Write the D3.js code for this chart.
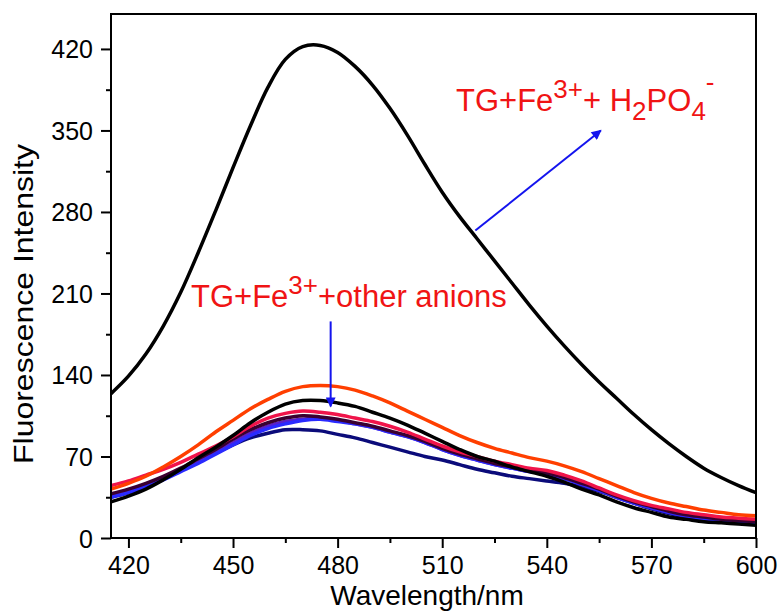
<!DOCTYPE html>
<html>
<head>
<meta charset="utf-8">
<script src="https://cdn.jsdelivr.net/npm/d3@7"></script>
<style>
  body { margin: 0; background: #fff; }
  text { font-family: "Liberation Sans", Arial, sans-serif; }
</style>
</head>
<body>
<div class="spectra"></div>
<script>
// wavelengths every 5 nm, 415..600
const wavelengths = d3.range(415, 601, 5);

// TG+Fe3+ + H2PO4-
const h2po4 = [124,139,158,182,211,245,281,318,354,387,411,422,423,417,405,389,369,346,321,297,276,257,238,219,200,182,165,149,134,120,106,93,81,70,60,52,45,39];

// TG+Fe3+ + other anions
const orange = [42,47,53,61,70,80,91,101,111,119,126,130,131,130,127,122,116,109,102,95,88,82,77,73,69,66,62,57,51,45,39,34,30,27,24,22,20,19];
const black2 = [31,36,42,50,59,69,78,88,99,108,115,118,118,116,113,108,103,97,90,83,76,70,66,61,57,53,48,42,37,31,26,22,18,16,14,13,12,11];
const crimson = [45,49,54,59,65,72,79,87,96,103,107,109,108,106,103,100,96,91,85,79,74,70,66,63,60,58,54,49,43,37,32,28,25,22,20,18,17,16];
const maroon = [38,42,47,53,60,68,76,85,93,99,103,105,104,102,99,96,92,88,83,77,72,68,64,61,58,56,52,47,42,36,31,27,23,20,18,16,15,14];
const purple = [36,40,45,51,58,66,74,82,90,96,100,102,103,101,98,95,91,87,82,76,71,67,63,60,57,55,51,46,41,35,30,26,22,19,17,15,14,13];
const blue = [35,39,44,50,57,64,72,80,88,94,98,101,102,100,98,95,91,87,82,76,71,67,63,60,57,55,51,46,41,35,30,26,22,19,17,15,14,13];
const navy = [35,39,45,52,59,66,73,80,86,90,93,93,92,89,86,82,78,74,70,67,63,59,56,53,51,49,47,44,40,35,30,25,21,18,16,14,13,12];

const series = [
    {name: 'navy', values: navy, color: '#0b0b7a'},
    {name: 'purple', values: purple, color: '#5a1fc8'},
    {name: 'blue', values: blue, color: '#2a2aff'},
    {name: 'maroon', values: maroon, color: '#3a0030'},
    {name: 'crimson', values: crimson, color: '#f0144a'},
    {name: 'black2', values: black2, color: '#000000'},
    {name: 'orange', values: orange, color: '#ff3f00'},
    {name: 'h2po4', values: h2po4, color: '#000000'}
];

const xTicks = [420, 450, 480, 510, 540, 570, 600];
const yTicks = [0, 70, 140, 210, 280, 350, 420];

const width = 783;
const height = 615;
const margin = {left: 111, right: 27, top: 14, bottom: 77};

const svg = d3.select('.spectra')
    .append('svg')
    .attr('width', width)
    .attr('height', height);

const x = d3.scaleLinear().domain([415, 600]).range([margin.left, width - margin.right]);
const y = d3.scaleLinear().domain([0, 450]).range([height - margin.bottom, margin.top]);

//minor ticks
svg.append('g')
    .attr('transform', `translate(0,${y(0)})`)
    .call(d3.axisBottom(x).tickValues(d3.range(435, 600, 30)).tickSize(5).tickFormat(''))
    .call(g => g.select('.domain').remove())
    .call(g => g.selectAll('line').attr('stroke-width', 2));
svg.append('g')
    .attr('transform', `translate(${x(415)},0)`)
    .call(d3.axisLeft(y).tickValues(d3.range(35, 450, 70)).tickSize(5).tickFormat(''))
    .call(g => g.select('.domain').remove())
    .call(g => g.selectAll('line').attr('stroke-width', 2));

//major ticks
const xAxis = svg.append('g')
    .attr('transform', `translate(0,${y(0)})`)
    .call(d3.axisBottom(x).tickValues(xTicks).tickSize(10).tickSizeOuter(0).tickPadding(8));
const yAxis = svg.append('g')
    .attr('transform', `translate(${x(415)},0)`)
    .call(d3.axisLeft(y).tickValues(yTicks).tickSize(10).tickSizeOuter(0).tickPadding(8));

[xAxis, yAxis].forEach(g => {
    g.select('.domain').remove();
    g.selectAll('line').attr('stroke-width', 2);
    g.selectAll('text')
        .attr('font-size', 25)
        .attr('fill', '#000')
        .style('font-family', '"Liberation Sans", Arial, sans-serif');
});
yAxis.selectAll('text').attr('dy', '0.36em');

const line = d3.line()
    .x((d, i) => x(wavelengths[i]))
    .y(d => y(d))
    .curve(d3.curveCatmullRom);

svg.append('clipPath').attr('id', 'plot-clip')
    .append('rect')
    .attr('x', margin.left).attr('y', margin.top)
    .attr('width', width - margin.left - margin.right)
    .attr('height', height - margin.top - margin.bottom);

svg.append('g')
    .attr('clip-path', 'url(#plot-clip)')
    .selectAll('path')
    .data(series)
    .enter()
    .append('path')
    .attr('d', d => line(d.values))
    .attr('fill', 'none')
    .attr('stroke', d => d.color)
    .attr('stroke-width', 3.5)
    .attr('stroke-linejoin', 'round');

//frame
svg.append('rect')
    .attr('x', margin.left)
    .attr('y', margin.top)
    .attr('width', width - margin.left - margin.right)
    .attr('height', height - margin.top - margin.bottom)
    .attr('fill', 'none')
    .attr('stroke', '#000')
    .attr('stroke-width', 2);

//axis titles
svg.append('text')
    .text('Wavelength/nm')
    .attr('x', 427)
    .attr('y', 605)
    .attr('text-anchor', 'middle')
    .attr('font-size', 28);

svg.append('text')
    .text('Fluorescence Intensity')
    .attr('transform', 'translate(33,304) rotate(-90)')
    .attr('text-anchor', 'middle')
    .attr('font-size', 28)
    .attr('textLength', 320)
    .attr('lengthAdjust', 'spacingAndGlyphs');

//arrows
svg.append('defs').append('marker')
    .attr('id', 'head')
    .attr('viewBox', '0 0 10 10')
    .attr('refX', 9).attr('refY', 5)
    .attr('markerWidth', 6).attr('markerHeight', 5)
    .attr('markerUnits', 'strokeWidth')
    .attr('orient', 'auto')
    .append('path')
    .attr('d', 'M0,0 L10,5 L0,10 Z')
    .attr('fill', '#1414ee');

const arrows = [
    {x1: 519.5, y1: 264, x2: 555.5, y2: 350},
    {x1: 478, y1: 186, x2: 478, y2: 113}
];
svg.selectAll('.arrow')
    .data(arrows)
    .enter()
    .append('line')
    .attr('class', 'arrow')
    .attr('x1', d => x(d.x1)).attr('y1', d => y(d.y1))
    .attr('x2', d => x(d.x2)).attr('y2', d => y(d.y2))
    .attr('stroke', '#1414ee')
    .attr('stroke-width', 2)
    .attr('marker-end', 'url(#head)');

//labels
const red = '#f01414';
const lab1 = svg.append('text')
    .attr('x', 456)
    .attr('y', 111)
    .attr('font-size', 31)
    .attr('fill', red);
lab1.append('tspan').text('TG+Fe');
lab1.append('tspan').text('3+').attr('font-size', 26).attr('dy', -13);
lab1.append('tspan').text('+ H').attr('dy', 13);
lab1.append('tspan').text('2').attr('font-size', 26).attr('dy', 9);
lab1.append('tspan').text('PO').attr('dy', -9);
lab1.append('tspan').text('4').attr('font-size', 26).attr('dy', 9);
lab1.append('tspan').text('-').attr('font-size', 26).attr('dy', -29);

const lab2 = svg.append('text')
    .attr('x', 191)
    .attr('y', 307)
    .attr('font-size', 31)
    .attr('fill', red);
lab2.append('tspan').text('TG+Fe');
lab2.append('tspan').text('3+').attr('font-size', 26).attr('dy', -13);
lab2.append('tspan').text('+other anions').attr('dy', 13);
</script>
</body>
</html>
